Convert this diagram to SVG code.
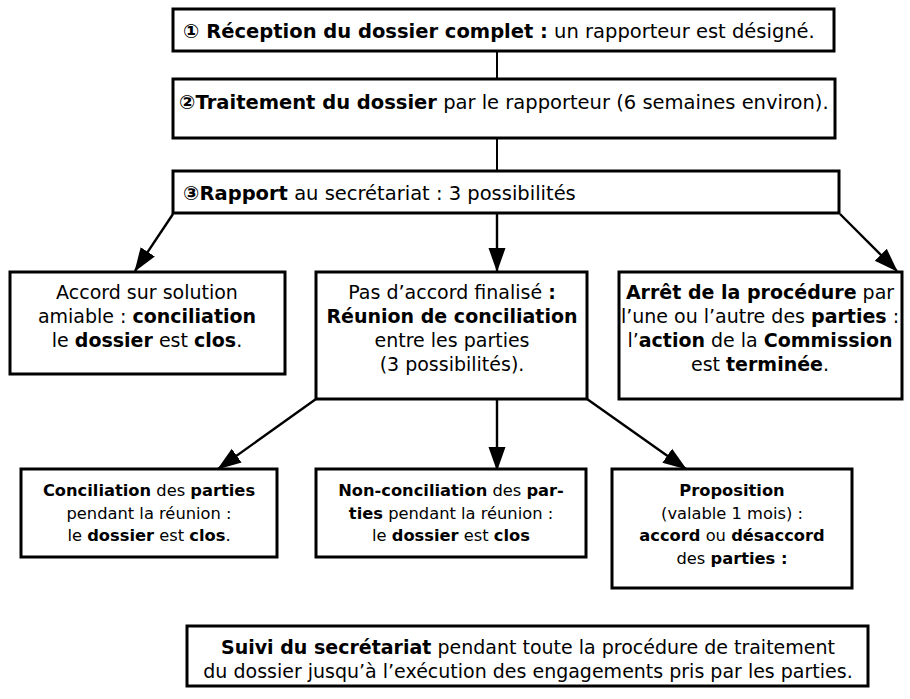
<svg xmlns="http://www.w3.org/2000/svg" width="910" height="699" viewBox="0 0 910 699">
<style>
  .box { fill: #ffffff; stroke: #000000; stroke-width: 3; }
  .t { font-family: "DejaVu Sans", Verdana, sans-serif; font-size: 19px; fill: #000000; }
  .ts { font-family: "DejaVu Sans", Verdana, sans-serif; font-size: 16.3px; fill: #000000; }
  .tl { font-family: "DejaVu Sans", Verdana, sans-serif; font-size: 19.5px; fill: #000000; }
  .b { font-weight: bold; }
  .c { text-anchor: middle; }
  .line { stroke: #000000; stroke-width: 2; fill: none; }
  .arr { stroke: #000000; stroke-width: 2.4; fill: none; marker-end: url(#ah); }
</style>
<defs>
  <marker id="ah" markerUnits="userSpaceOnUse" markerWidth="24" markerHeight="20" viewBox="0 0 24 20" refX="23" refY="10" orient="auto">
    <path d="M0,1.5 L24,10 L0,18.5 Z" fill="#000000"/>
  </marker>
</defs>
<rect width="910" height="699" fill="#ffffff"/>

<g id="connectors">
  <line class="line" x1="497" y1="51" x2="497" y2="79"/>
  <line class="line" x1="497" y1="138" x2="497" y2="171"/>
  <line class="arr" x1="173" y1="214" x2="135" y2="271"/>
  <line class="arr" x1="497" y1="214" x2="497" y2="271"/>
  <line class="arr" x1="840" y1="214" x2="897" y2="271"/>
  <line class="arr" x1="316" y1="399" x2="218" y2="469"/>
  <line class="arr" x1="497" y1="399" x2="497" y2="470"/>
  <line class="arr" x1="587" y1="399" x2="686" y2="469"/>
</g>

<g id="node-reception">
  <rect class="box" x="173" y="9" width="661" height="42"/>
  <text class="tl" x="183" y="38"><tspan class="b">① Réception du dossier complet :</tspan> un rapporteur est désigné.</text>
</g>

<g id="node-traitement">
  <rect class="box" x="173" y="79" width="662" height="59"/>
  <text class="tl" x="179" y="109"><tspan class="b">②Traitement du dossier</tspan> par le rapporteur (6 semaines environ).</text>
</g>

<g id="node-rapport">
  <rect class="box" x="173" y="171" width="666" height="42"/>
  <text class="tl" x="183" y="200"><tspan class="b">③Rapport</tspan> au secrétariat : 3 possibilités</text>
</g>

<g id="node-accord">
  <rect class="box" x="10" y="272" width="275" height="102"/>
  <text class="t c" x="147" y="299">Accord sur solution</text>
  <text class="t c" x="147" y="323">amiable : <tspan class="b">conciliation</tspan></text>
  <text class="t c" x="147" y="347">le <tspan class="b">dossier</tspan> est <tspan class="b">clos</tspan>.</text>
</g>

<g id="node-pas-accord">
  <rect class="box" x="316" y="272" width="271" height="127"/>
  <text class="t c" x="452" y="299">Pas d’accord finalisé <tspan class="b">:</tspan></text>
  <text class="t c b" x="452" y="323">Réunion de conciliation</text>
  <text class="t c" x="452" y="347">entre les parties</text>
  <text class="t c" x="452" y="371">(3 possibilités).</text>
</g>

<g id="node-arret">
  <rect class="box" x="619" y="272" width="283" height="127"/>
  <text class="t c" x="760" y="299"><tspan class="b">Arrêt de la procédure</tspan> par</text>
  <text class="t c" x="760" y="323">l’une ou l’autre des <tspan class="b">parties</tspan> :</text>
  <text class="t c" x="760" y="347">l’<tspan class="b">action</tspan> de la <tspan class="b">Commission</tspan></text>
  <text class="t c" x="760" y="371">est <tspan class="b">terminée</tspan>.</text>
</g>

<g id="node-conciliation">
  <rect class="box" x="21" y="469" width="256" height="88"/>
  <text class="ts c" x="149" y="496"><tspan class="b">Conciliation</tspan> des <tspan class="b">parties</tspan></text>
  <text class="ts c" x="149" y="519">pendant la réunion :</text>
  <text class="ts c" x="149" y="541">le <tspan class="b">dossier</tspan> est <tspan class="b">clos</tspan>.</text>
</g>

<g id="node-non-conciliation">
  <rect class="box" x="316" y="469" width="270" height="88"/>
  <text class="ts c" x="451" y="496"><tspan class="b">Non-conciliation</tspan> des <tspan class="b">par-</tspan></text>
  <text class="ts c" x="451" y="519"><tspan class="b">ties</tspan> pendant la réunion :</text>
  <text class="ts c" x="451" y="541">le <tspan class="b">dossier</tspan> est <tspan class="b">clos</tspan></text>
</g>

<g id="node-proposition">
  <rect class="box" x="612" y="469" width="240" height="119"/>
  <text class="ts c b" x="732" y="496">Proposition</text>
  <text class="ts c" x="732" y="519">(valable 1 mois) :</text>
  <text class="ts c" x="732" y="541"><tspan class="b">accord</tspan> ou <tspan class="b">désaccord</tspan></text>
  <text class="ts c" x="732" y="564">des <tspan class="b">parties :</tspan></text>
</g>

<g id="node-suivi">
  <rect class="box" x="187" y="626" width="681" height="60"/>
  <text class="t c" x="528" y="654"><tspan class="b">Suivi du secrétariat</tspan> pendant toute la procédure de traitement</text>
  <text class="t c" x="528" y="678">du dossier jusqu’à l’exécution des engagements pris par les parties.</text>
</g>
</svg>
